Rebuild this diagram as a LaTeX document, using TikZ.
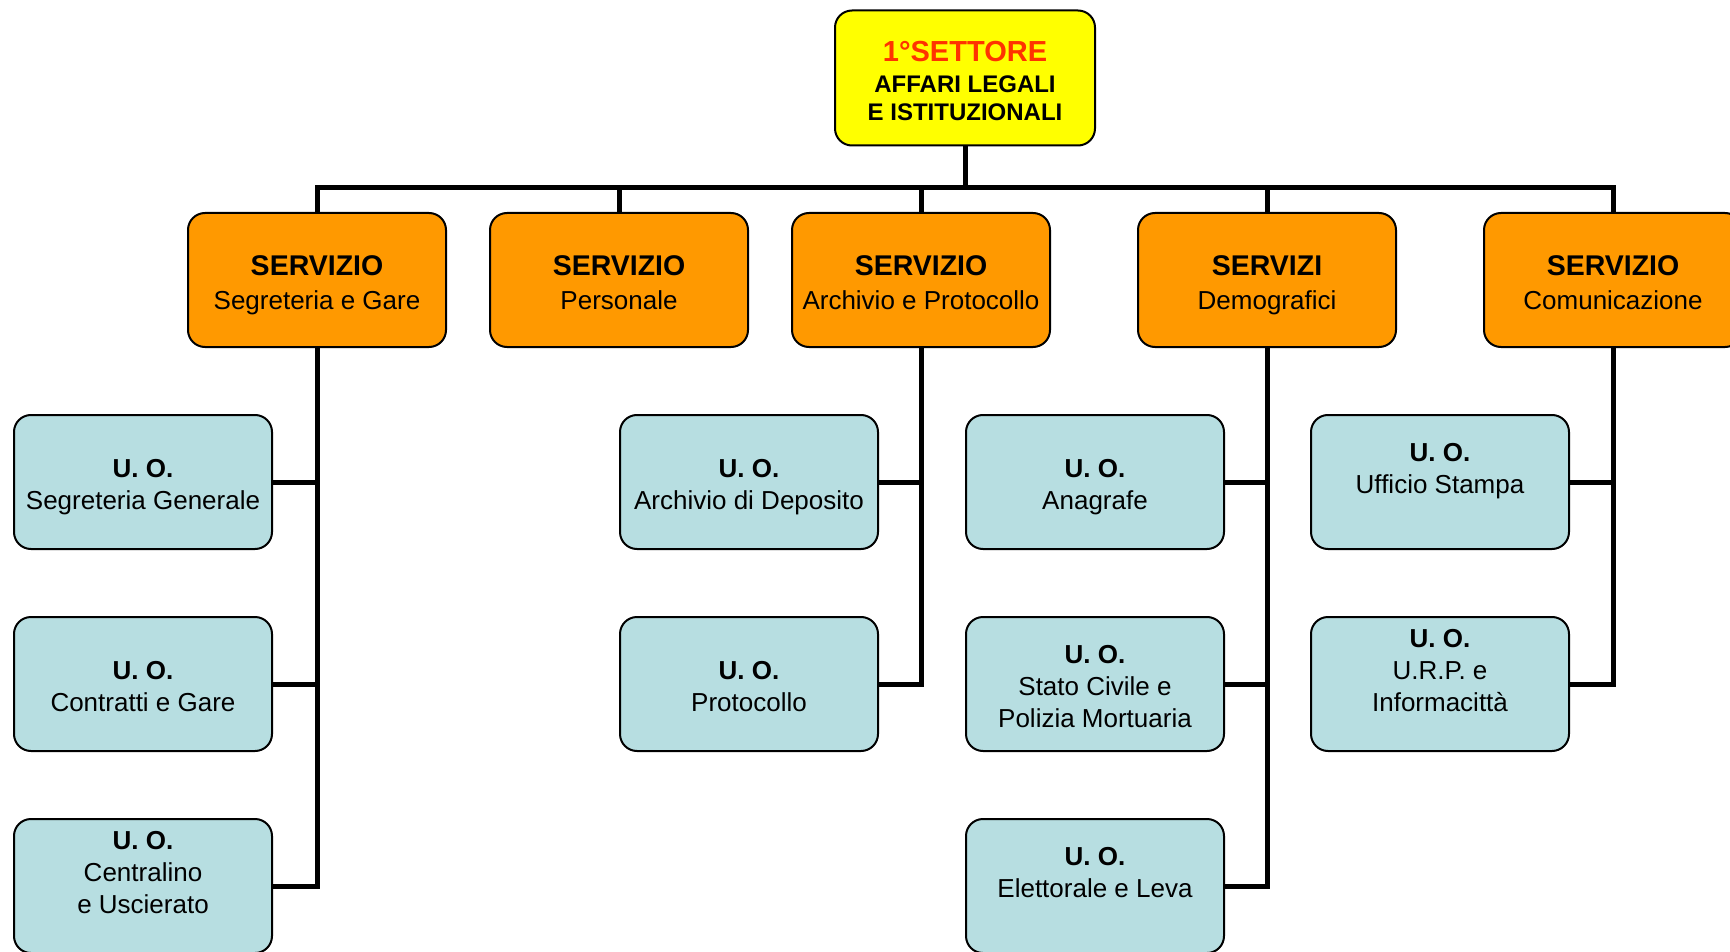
\documentclass[tikz,border=0pt]{standalone}
\usepackage{fontspec}
\setmainfont{Liberation Sans}
\usepackage{tikz}
\definecolor{settoreyellow}{RGB}{255,255,0}
\definecolor{servizioorange}{RGB}{255,153,0}
\definecolor{uoblue}{RGB}{183,222,225}
\definecolor{settorered}{RGB}{255,51,0}
\newcommand{\servhead}[1]{{\bfseries\fontsize{28.5}{34}\selectfont\rule{0pt}{31pt}#1}}
\newcommand{\uohead}{{\bfseries\rule{0pt}{29pt}U. O.}}
\newcommand{\lastline}{\rule[-6pt]{0pt}{6pt}}

\begin{document}
\begin{tikzpicture}[x=1pt, y=-1pt,
        box/.style={draw, line width=2pt, rounded corners=17pt, align=center, inner sep=0pt,
            minimum width=258pt, minimum height=134pt},
        settore/.style={box, fill=settoreyellow, minimum width=260pt, minimum height=135pt,
            font=\bfseries\fontsize{24}{28}\selectfont},
        servizio/.style={box, fill=servizioorange, font=\fontsize{26}{34}\selectfont},
        uo/.style={box, fill=uoblue, font=\fontsize{26}{32}\selectfont},
        link/.style={line width=5pt}]
        \useasboundingbox (0, 0) rectangle (1730, 952);
        \clip (0, 0) rectangle (1730, 952);
        % Settore
        \node [settore] (top) at (965, 78) {{\color{settorered}\fontsize{29}{31}\selectfont\rule{0pt}{26pt}1°SETTORE}\\[3pt]AFFARI LEGALI\\E ISTITUZIONALI};
        % Servizi
        \node [servizio] (s1) at (317, 280) {\servhead{SERVIZIO}\\Segreteria e Gare\lastline};
        \node [servizio] (s2) at (619, 280) {\servhead{SERVIZIO}\\Personale\lastline};
        \node [servizio] (s3) at (921, 280) {\servhead{SERVIZIO}\\Archivio e Protocollo\lastline};
        \node [servizio] (s4) at (1267, 280) {\servhead{SERVIZI}\\Demografici\lastline};
        \node [servizio] (s5) at (1613, 280) {\servhead{SERVIZIO}\\Comunicazione\lastline};
        % U. O.
        % 1
        \node [uo] (u11) at (143, 482) {\uohead\\Segreteria Generale\lastline};
        \node [uo] (u12) at (143, 684) {\uohead\\Contratti e Gare\lastline};
        \node [uo] (u13) at (143, 886) {\uohead\\Centralino\\e Uscierato\\\lastline};
        % 3
        \node [uo] (u31) at (749, 482) {\uohead\\Archivio di Deposito\lastline};
        \node [uo] (u32) at (749, 684) {\uohead\\Protocollo\lastline};
        % 4
        \node [uo] (u41) at (1095, 482) {\uohead\\Anagrafe\lastline};
        \node [uo] (u42) at (1095, 684) {\uohead\\Stato Civile e\\Polizia Mortuaria\lastline};
        \node [uo] (u43) at (1095, 886) {\uohead\\Elettorale e Leva\\\lastline};
        % 5
        \node [uo] (u51) at (1440, 482) {\uohead\\Ufficio Stampa\\\lastline};
        \node [uo] (u52) at (1440, 684) {\uohead\\U.R.P. e\\Informacittà\\\lastline};
        % Lines
        \coordinate (bus) at (965, 188);
        \draw [link] (top.south) -- (bus);
        \foreach \s in {s1, s2, s3, s4, s5}
            \draw [link] (\s.north) |- (bus);
        \foreach \u/\s in {u11/s1, u12/s1, u13/s1, u31/s3, u32/s3, u41/s4, u42/s4, u43/s4, u51/s5, u52/s5}
            \draw [link] (\s.south) |- (\u.east);
    \end{tikzpicture}
\end{document}
